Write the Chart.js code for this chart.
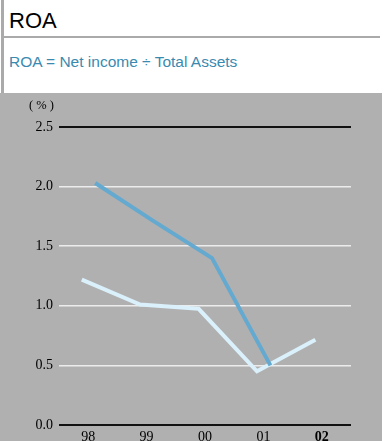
<!DOCTYPE html>
<html>
<head>
<meta charset="utf-8">
<script src="https://cdn.jsdelivr.net/npm/chart.js@4"></script>
<style>
    body { margin: 0; background: #fff; font-family: "Liberation Sans", Arial, sans-serif; }
    #bar { position: absolute; left: 1px; top: 0; width: 3px; height: 93px; background: #aaa; }
    #title { position: absolute; left: 9px; top: 8px; font-size: 22px; color: #000; }
    #rule { position: absolute; left: 4px; top: 36px; width: 376px; height: 2px; background: #aaa; }
    #sub { position: absolute; left: 9px; top: 53px; font-size: 15.5px; color: #3a8ab0; }
    #panel { position: absolute; left: 0; top: 93px; width: 382px; height: 348px; background: #b0b0b0; }
    #unit { position: absolute; left: 29px; top: 5px; font: 12.5px "Liberation Serif", serif; color: #000; }
</style>
</head>
<body>
<div id="bar"></div>
<div id="title">ROA</div>
<div id="rule"></div>
<div id="sub">ROA = Net income ÷ Total Assets</div>
<div id="panel">
    <canvas id="chartRoa" width="382" height="348"></canvas>
    <div id="unit">( % )</div>
</div>
<script>
const years = ["98", "99", "00", "01", "02"];
const roaDark = [2.03, 1.71, 1.40, 0.50];
const roaLight = [1.22, 1.01, 0.975, 0.45, 0.715];
const yTicks = [0, 0.5, 1.0, 1.5, 2.0, 2.5];

// the two lines sit a little left / right of each year
function toPoints(values, shift) {
    return values.map((v, i) => ({ x: i + shift, y: v }));
}

new Chart(document.getElementById("chartRoa"), {
    type: "line",
    data: {
        datasets: [{
            data: toPoints(roaDark, 0.12),
            borderColor: "#64a9cf",
            borderWidth: 4,
            pointRadius: 0,
            tension: 0
        }, {
            data: toPoints(roaLight, -0.11),
            borderColor: "#daf0fb",
            borderWidth: 4,
            pointRadius: 0,
            tension: 0
        }]
    },
    options: {
        responsive: false,
        animation: false,
        layout: { padding: { top: 34, right: 31, left: 0, bottom: 0 } },
        plugins: { legend: { display: false }, tooltip: { enabled: false } },
        scales: {
            x: {
                type: "linear",
                min: -0.5,
                max: 4.5,
                afterBuildTicks: s => { s.ticks = years.map((_, i) => ({ value: i })); },
                afterFit: s => { s.height = 16; },
                grid: { display: false, drawTicks: false },
                border: { display: false },
                ticks: {
                    padding: 4,
                    color: "#000",
                    font: c => ({ family: "Liberation Serif", size: 14, weight: c.index === 4 ? "bold" : "normal" }),
                    callback: v => years[v]
                }
            },
            y: {
                min: 0,
                max: 2.5,
                afterBuildTicks: s => { s.ticks = yTicks.map(v => ({ value: v })); },
                afterFit: s => { s.width = 59; },
                border: { display: false },
                grid: {
                    drawTicks: false,
                    color: c => (c.tick.value === 0 || c.tick.value === 2.5) ? "#111" : "#ececec",
                    lineWidth: c => (c.tick.value === 0 || c.tick.value === 2.5) ? 2 : 1.5
                },
                ticks: {
                    padding: 6,
                    color: "#000",
                    font: { family: "Liberation Serif", size: 14 },
                    callback: v => v.toFixed(1)
                }
            }
        }
    }
});
</script>
</body>
</html>
